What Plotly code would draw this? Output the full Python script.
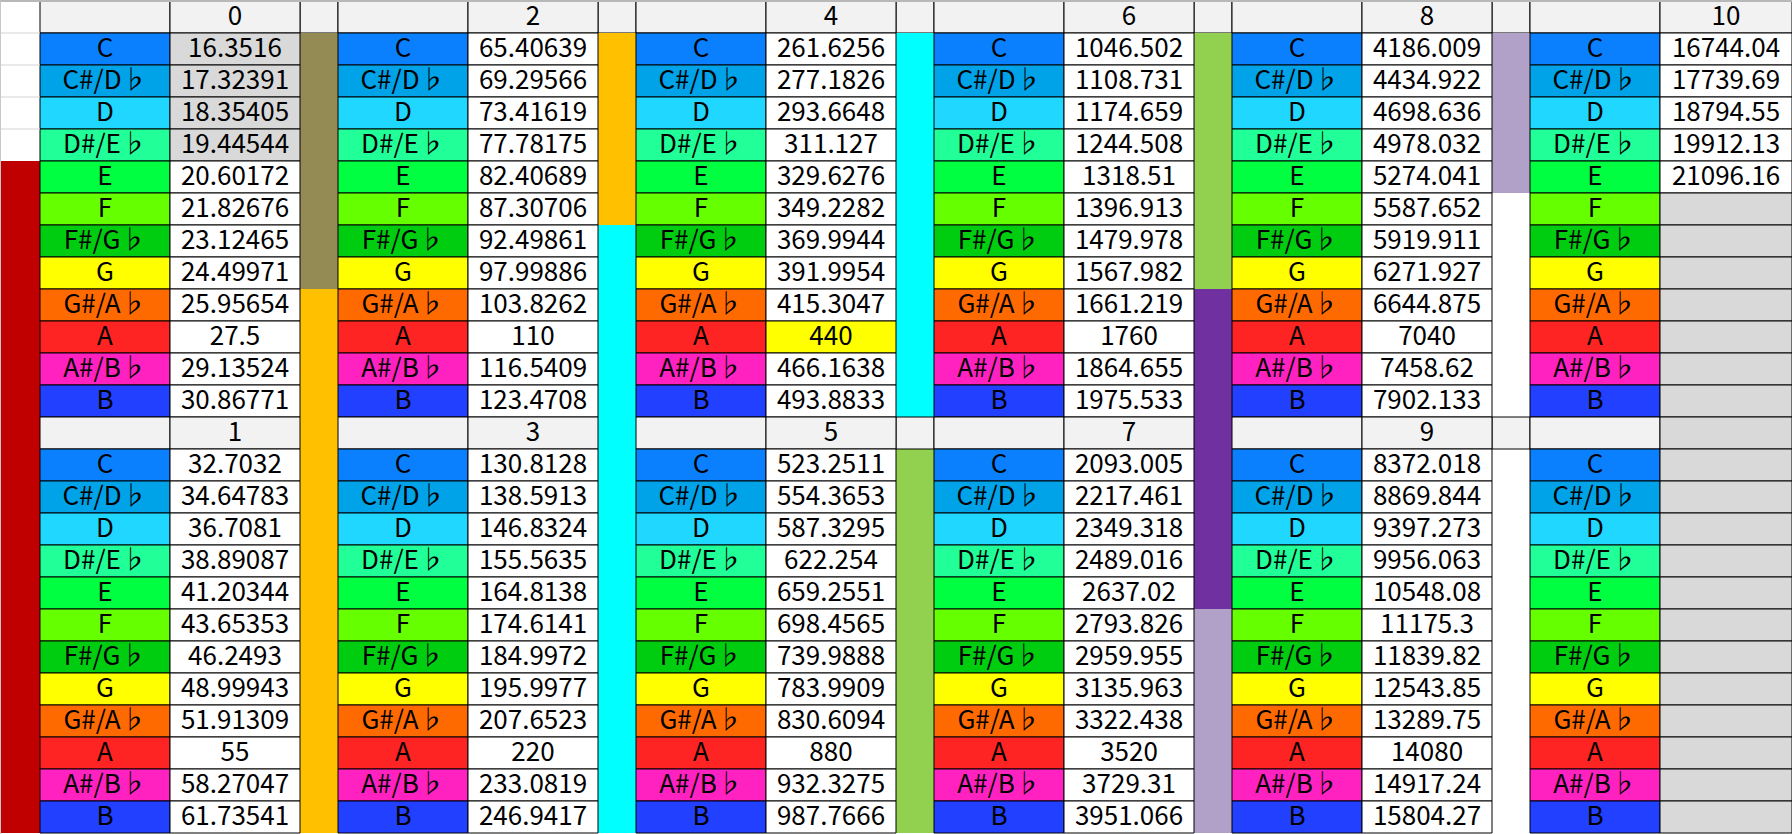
import plotly.graph_objects as go

# note names and their cell colours
notes = ["C", "C#/D♭", "D", "D#/E♭", "E", "F", "F#/G♭", "G", "G#/A♭", "A", "A#/B♭", "B"]
note_colors = ["#0a80ff", "#00a2e8", "#20d8ff", "#20ff98", "#00ff40", "#66ff00",
               "#00cc10", "#ffff00", "#ff6a00", "#ff2424", "#ff22c0", "#2240ff"]

# frequencies (Hz) per octave, as shown in the sheet
oct0 = [16.3516, 17.32391, 18.35405, 19.44544, 20.60172, 21.82676, 23.12465, 24.49971, 25.95654, 27.5, 29.13524, 30.86771]
oct1 = [32.7032, 34.64783, 36.7081, 38.89087, 41.20344, 43.65353, 46.2493, 48.99943, 51.91309, 55, 58.27047, 61.73541]
oct2 = [65.40639, 69.29566, 73.41619, 77.78175, 82.40689, 87.30706, 92.49861, 97.99886, 103.8262, 110, 116.5409, 123.4708]
oct3 = [130.8128, 138.5913, 146.8324, 155.5635, 164.8138, 174.6141, 184.9972, 195.9977, 207.6523, 220, 233.0819, 246.9417]
oct4 = [261.6256, 277.1826, 293.6648, 311.127, 329.6276, 349.2282, 369.9944, 391.9954, 415.3047, 440, 466.1638, 493.8833]
oct5 = [523.2511, 554.3653, 587.3295, 622.254, 659.2551, 698.4565, 739.9888, 783.9909, 830.6094, 880, 932.3275, 987.7666]
oct6 = [1046.502, 1108.731, 1174.659, 1244.508, 1318.51, 1396.913, 1479.978, 1567.982, 1661.219, 1760, 1864.655, 1975.533]
oct7 = [2093.005, 2217.461, 2349.318, 2489.016, 2637.02, 2793.826, 2959.955, 3135.963, 3322.438, 3520, 3729.31, 3951.066]
oct8 = [4186.009, 4434.922, 4698.636, 4978.032, 5274.041, 5587.652, 5919.911, 6271.927, 6644.875, 7040, 7458.62, 7902.133]
oct9 = [8372.018, 8869.844, 9397.273, 9956.063, 10548.08, 11175.3, 11839.82, 12543.85, 13289.75, 14080, 14917.24, 15804.27]
oct10 = [16744.04, 17739.69, 18794.55, 19912.13, 21096.16]
octaves = [oct0, oct1, oct2, oct3, oct4, oct5, oct6, oct7, oct8, oct9, oct10, []]

# colour strips between the octave blocks (top half / separator row / bottom half)
OLV, ORG, CYN, GRN, PUR, LAV, WHT, HDR = "#948a54", "#ffc000", "#00ffff", "#92d050", "#7030a0", "#b1a0c7", "#ffffff", "#f2f2f2"
strip_top = [[OLV] * 8 + [ORG] * 4, [ORG] * 6 + [CYN] * 6, [CYN] * 12, [GRN] * 8 + [PUR] * 4, [LAV] * 5 + [WHT] * 7]
strip_mid = [ORG, CYN, HDR, PUR, HDR]
strip_bot = [[ORG] * 12, [CYN] * 12, [GRN] * 12, [PUR] * 5 + [LAV] * 7, [WHT] * 12]

GREY = "#d9d9d9"
W, H = 1792, 834
COL_A, NOTE_W, FREQ_W, STRIP_W, ROW_H = 40, 130, 130, 38, 32
FONT = dict(family="Noto Sans CJK JP", size=26, color="black")

shapes = []
tx, ty, tt = [], [], []


def cell(x0, x1, r, fill, border=True):
    shapes.append(dict(type="rect", xref="x", yref="y", x0=x0, x1=x1, y0=r * ROW_H, y1=(r + 1) * ROW_H,
                       fillcolor=fill, layer="below",
                       line=dict(color="black", width=1) if border else dict(width=0)))


def label(x0, x1, r, text):
    tx.append((x0 + x1) / 2)
    ty.append(r * ROW_H + ROW_H / 2 + 1)
    tt.append(text)


# column A: white with faint gridlines, then red band
for r in range(26):
    cell(0, COL_A, r, "#ffffff" if r < 5 else "#c00000", border=False)
for r in range(1, 5):
    shapes.append(dict(type="line", xref="x", yref="y", x0=0, x1=COL_A, y0=r * ROW_H, y1=r * ROW_H,
                       line=dict(color="#d4d4d4", width=1)))

# strips first so the bordered cells draw on top of them
for g in range(5):
    s = COL_A + g * (NOTE_W + FREQ_W + STRIP_W) + NOTE_W + FREQ_W
    cell(s, s + STRIP_W, 0, HDR)
    for i in range(12):
        cell(s, s + STRIP_W, 1 + i, strip_top[g][i], border=False)
        cell(s, s + STRIP_W, 14 + i, strip_bot[g][i], border=False)
    cell(s, s + STRIP_W, 13, strip_mid[g], border=(strip_mid[g] == HDR))

for g in range(6):
    nx = COL_A + g * (NOTE_W + FREQ_W + STRIP_W)
    fx = nx + NOTE_W
    fx1 = fx + FREQ_W if g < 5 else W
    for half, hdr_row in ((0, 0), (1, 13)):
        octv = 2 * g + half
        vals = octaves[octv]
        cell(nx, fx, hdr_row, HDR)
        cell(fx, fx1, hdr_row, HDR if octv <= 10 else GREY)
        if octv <= 10:
            label(fx, fx1, hdr_row, str(octv))
        for i in range(12):
            r = hdr_row + 1 + i
            cell(nx, fx, r, note_colors[i])
            label(nx, fx, r, notes[i])
            if i < len(vals):
                fill = "#ffffff"
                if vals[i] < 20:
                    fill = GREY
                if vals[i] == 440:
                    fill = "#ffff00"
                cell(fx, fx1, r, fill)
                label(fx, fx1, r, f"{vals[i]:.7g}")
            else:
                cell(fx, fx1, r, GREY)

# sheet top edge and left edge
shapes.append(dict(type="line", xref="x", yref="y", x0=0, x1=W, y0=0, y1=0, line=dict(color="#b8b8b8", width=2)))
shapes.append(dict(type="line", xref="x", yref="y", x0=0, x1=0, y0=0, y1=H, line=dict(color="#c8c8c8", width=2)))

fig = go.Figure(go.Scatter(x=tx, y=ty, text=tt, mode="text", textposition="middle center",
                           textfont=FONT, hoverinfo="skip", showlegend=False))
fig.update_layout(
    width=W, height=H,
    margin=dict(l=0, r=0, t=0, b=0),
    paper_bgcolor="white", plot_bgcolor="white",
    xaxis=dict(range=[0, W], visible=False, fixedrange=True),
    yaxis=dict(range=[H - 1, -1], visible=False, fixedrange=True),
    shapes=shapes,
)
fig.write_html("out.html", config={"displayModeBar": False},
               post_script="document.body.style.margin='0';document.body.style.overflow='hidden';")
